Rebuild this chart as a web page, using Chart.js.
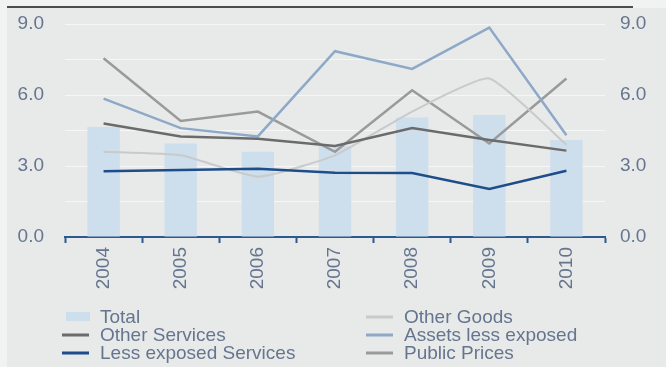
<!DOCTYPE html>
<html>
<head>
<meta charset="utf-8">
<script src="https://cdn.jsdelivr.net/npm/chart.js@4"></script>
<style>
  html, body { margin: 0; padding: 0; background: #eceeed; }
  #wrap { width: 666px; height: 367px; }
</style>
</head>
<body>
<div id="wrap"><canvas id="chart" width="666" height="367"></canvas></div>
<script>
const years = ["2004", "2005", "2006", "2007", "2008", "2009", "2010"];
const total = [4.65, 3.95, 3.6, 3.85, 5.05, 5.15, 4.1];
const otherServices = [4.8, 4.25, 4.15, 3.85, 4.6, 4.1, 3.65];
const lessExposedServices = [2.78, 2.83, 2.88, 2.72, 2.7, 2.03, 2.8];
const otherGoods = [3.6, 3.45, 2.55, 3.45, 5.3, 6.7, 3.9];
const assetsLessExposed = [5.85, 4.6, 4.25, 7.85, 7.1, 8.85, 4.3];
const publicPrices = [7.55, 4.9, 5.3, 3.6, 6.2, 3.95, 6.7];

const textColor = "#66758f";
const axisBlue = "#2d5a8e";
const fontFamily = "'Liberation Sans', Arial, sans-serif";
const font = { family: fontFamily, size: 19 };

function line(label, data, color, width, tension) {
  return {
    type: "line", label, data,
    borderColor: color, backgroundColor: color,
    borderWidth: width, pointRadius: 0, tension: tension || 0,
    order: 1, yAxisID: "y"
  };
}

// page background and the rule across the top
const frame = {
  id: "frame",
  beforeDraw(chart) {
    const ctx = chart.ctx;
    ctx.save();
    ctx.fillStyle = "#f1f2f2";
    ctx.fillRect(0, 0, chart.width, chart.height);
    ctx.fillStyle = "#e8eae9";
    ctx.fillRect(7, 8, chart.width - 7, chart.height - 8);
    ctx.strokeStyle = "#4d4d4d";
    ctx.lineWidth = 2;
    ctx.beginPath();
    ctx.moveTo(7, 7);
    ctx.lineTo(633, 7);
    ctx.stroke();
    ctx.restore();
  }
};

// two-column legend under the axis
const columnLegend = {
  id: "columnLegend",
  afterDraw(chart) {
    const ctx = chart.ctx;
    const cols = [
      { x: 62, items: [0, 1, 2] },
      { x: 366, items: [3, 4, 5] }
    ];
    const rowY = [317, 335, 353];
    ctx.save();
    ctx.font = "19px " + fontFamily;
    ctx.textBaseline = "middle";
    cols.forEach(col => {
      col.items.forEach((di, r) => {
        const ds = chart.data.datasets[di];
        const y = rowY[r];
        if (ds.type === "bar") {
          ctx.fillStyle = ds.backgroundColor;
          ctx.fillRect(col.x + 4, y - 5, 24, 9);
        } else {
          ctx.strokeStyle = ds.borderColor;
          ctx.lineWidth = 3;
          ctx.beginPath();
          ctx.moveTo(col.x, y);
          ctx.lineTo(col.x + 27, y);
          ctx.stroke();
        }
        ctx.fillStyle = textColor;
        ctx.fillText(ds.label, col.x + 38, y + 1);
      });
    });
    ctx.restore();
  }
};

const tickLabel = v => (Math.abs(v % 3) < 1e-9 ? v.toFixed(1) : "");

// value axes: fixed width, no extra vertical padding from the tick gap
const fitValueAxis = width => s => {
  s.width = width;
  s.paddingTop = 0;
  s.paddingBottom = 0;
};

new Chart(document.getElementById("chart"), {
  type: "bar",
  data: {
    labels: years,
    datasets: [
      {
        type: "bar", label: "Total", data: total,
        backgroundColor: "#cddeed", borderWidth: 0,
        barPercentage: 0.42, categoryPercentage: 1, order: 10, yAxisID: "y"
      },
      line("Other Services", otherServices, "#6b6b6b", 2.5),
      line("Less exposed Services", lessExposedServices, "#1f4d8a", 2.5),
      line("Other Goods", otherGoods, "#c8cacb", 2, 0.15),
      line("Assets less exposed", assetsLessExposed, "#8ea9c8", 2.5),
      line("Public Prices", publicPrices, "#9a9a9a", 2.5)
    ]
  },
  options: {
    responsive: false,
    animation: false,
    layout: { padding: { top: 24, left: 0, right: 0, bottom: 0 } },
    plugins: {
      legend: { display: false },
      tooltip: { enabled: false }
    },
    scales: {
      x: {
        offset: true,
        grid: {
          offset: true, drawOnChartArea: false, drawTicks: true,
          tickLength: 6, tickWidth: 2, tickColor: axisBlue
        },
        border: { color: axisBlue, width: 2 },
        ticks: { color: textColor, font, minRotation: 90, maxRotation: 90, padding: 4 },
        afterFit: s => { s.height = 130; }
      },
      y: {
        position: "left", min: 0, max: 9,
        grid: { color: "rgba(255,255,255,0.55)", drawTicks: false, lineWidth: 1 },
        border: { display: false },
        ticks: { stepSize: 1.5, color: textColor, font, padding: 21, callback: tickLabel },
        afterFit: fitValueAxis(65)
      },
      y2: {
        position: "right", min: 0, max: 9,
        grid: { display: false, drawTicks: false },
        border: { display: false },
        ticks: { stepSize: 1.5, color: textColor, font, padding: 15, callback: tickLabel },
        afterFit: fitValueAxis(61)
      }
    }
  },
  plugins: [frame, columnLegend]
});
</script>
</body>
</html>
